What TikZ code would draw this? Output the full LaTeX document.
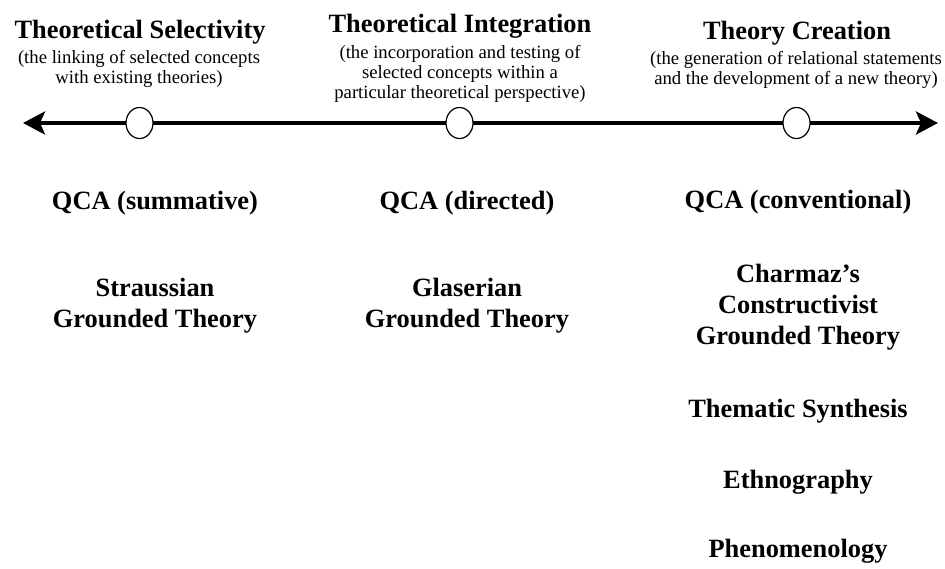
\documentclass[tikz,border=0pt]{standalone}
\usepackage{fontspec}
\setmainfont{Liberation Serif}
\usetikzlibrary{arrows.meta,shapes.geometric}
\tikzset{
  headtext/.style={font=\fontsize{26.4}{31}\selectfont\bfseries, inner sep=0pt, anchor=base, align=center},
  subtext/.style={font=\fontsize{18.7}{20}\selectfont, inner sep=0pt, anchor=base, align=center},
  itemtext/.style={font=\fontsize{26.4}{31}\selectfont\bfseries, inner sep=0pt, anchor=base, align=center},
  axisline/.style={line width=4pt, {Stealth[length=22pt,width=23pt,inset=5pt]}-{Stealth[length=22pt,width=23pt,inset=5pt]}},
  marker/.style={ellipse, draw, line width=1.2pt, fill=white, minimum width=27pt, minimum height=31pt, inner sep=0pt}
}
\begin{document}
\begin{tikzpicture}[x=1pt,y=-1pt]
\useasboundingbox (0,0) rectangle (945,568);
% titles (multi-line nodes are placed by the baseline of their last line)
\node[headtext] (t1) at (140,38) {Theoretical Selectivity};
\node[subtext] (s1) at (139,83) {(the linking of selected concepts\\with existing theories)};
\node[headtext] (t2) at (460,32) {Theoretical Integration};
\node[subtext] (s2) at (460,98) {(the incorporation and testing of\\selected concepts within a\\particular theoretical perspective)};
\node[headtext] (t3) at (797,39) {Theory Creation};
\node[subtext] (s3) at (796,84) {(the generation of relational statements\\and the development of a new theory)};
% axis
\coordinate (left) at (23,123);
\coordinate (right) at (938,123);
\draw[axisline] (left) -- (right);
\node[marker] (c1) at (139.5,123) {};
\node[marker] (c2) at (459.5,123) {};
\node[marker] (c3) at (796.5,123) {};
% column 1
\node[itemtext] (a1) at (155,209) {QCA (summative)};
\node[itemtext] (a2) at (155,327) {Straussian\\Grounded Theory};
% column 2
\node[itemtext] (b1) at (467,209) {QCA (directed)};
\node[itemtext] (b2) at (467,327) {Glaserian\\Grounded Theory};
% column 3
\node[itemtext] (d1) at (798,208) {QCA (conventional)};
\node[itemtext] (d2) at (798,344) {Charmaz’s\\Constructivist\\Grounded Theory};
\node[itemtext] (d3) at (798,417) {Thematic Synthesis};
\node[itemtext] (d4) at (798,488) {Ethnography};
\node[itemtext] (d5) at (798,557) {Phenomenology};
\end{tikzpicture}
\end{document}
